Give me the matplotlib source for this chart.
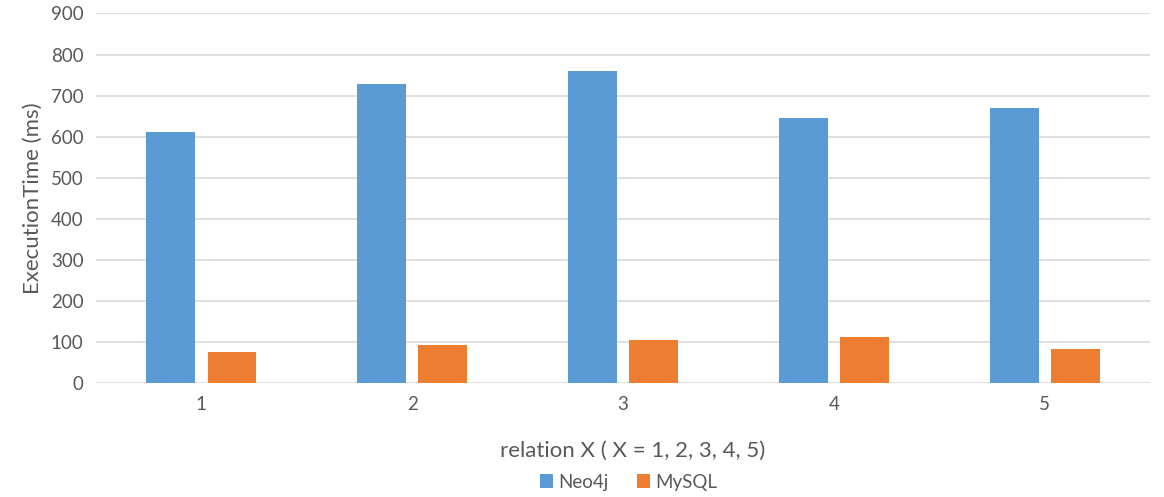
import numpy as np
import matplotlib.pyplot as plt

categories = ["1", "2", "3", "4", "5"]
neo4j = [612, 727, 760, 646, 670]
mysql = [77, 93, 106, 112, 83]
y_ticks = [0, 100, 200, 300, 400, 500, 600, 700, 800, 900]

plt.rcParams['font.family'] = ['Lato', 'DejaVu Sans']

fig = plt.figure(figsize=(11.64, 4.97), dpi=100)
ax = fig.add_axes([0.0825, 0.229, 0.9055, 0.744])

x = np.arange(len(categories))
w = 0.232
ax.bar(x - 0.145, neo4j, w, color='#5B9BD5', label='Neo4j', zorder=3)
ax.bar(x + 0.145, mysql, w, color='#ED7D31', label='MySQL', zorder=3)

ax.set_xlim(-0.5, len(categories) - 0.5)
ax.set_ylim(0, 900)
ax.set_yticks(y_ticks)
ax.set_xticks(x)
ax.set_xticklabels(categories)
ax.grid(axis='y', color='#D9D9D9', linewidth=1.2, zorder=0)
for s in ax.spines.values():
    s.set_visible(False)
ax.tick_params(length=0, labelsize=13.5, colors='#595959', pad=9)

ax.set_ylabel('ExecutionTime (ms)', fontsize=16, color='#595959', labelpad=6)
ax.set_xlabel('relation X ( X = 1, 2, 3, 4, 5)', fontsize=16, color='#595959', labelpad=20)
ax.xaxis.set_label_coords(0.509, -0.155)

fig.legend(*ax.get_legend_handles_labels(), loc='center', bbox_to_anchor=(0.54, 0.03),
           ncol=2, frameon=False, fontsize=13.5, labelcolor='#595959',
           handlelength=0.7, handleheight=0.7, handletextpad=0.3, columnspacing=1.5)

fig.savefig('out.png', dpi=100)
